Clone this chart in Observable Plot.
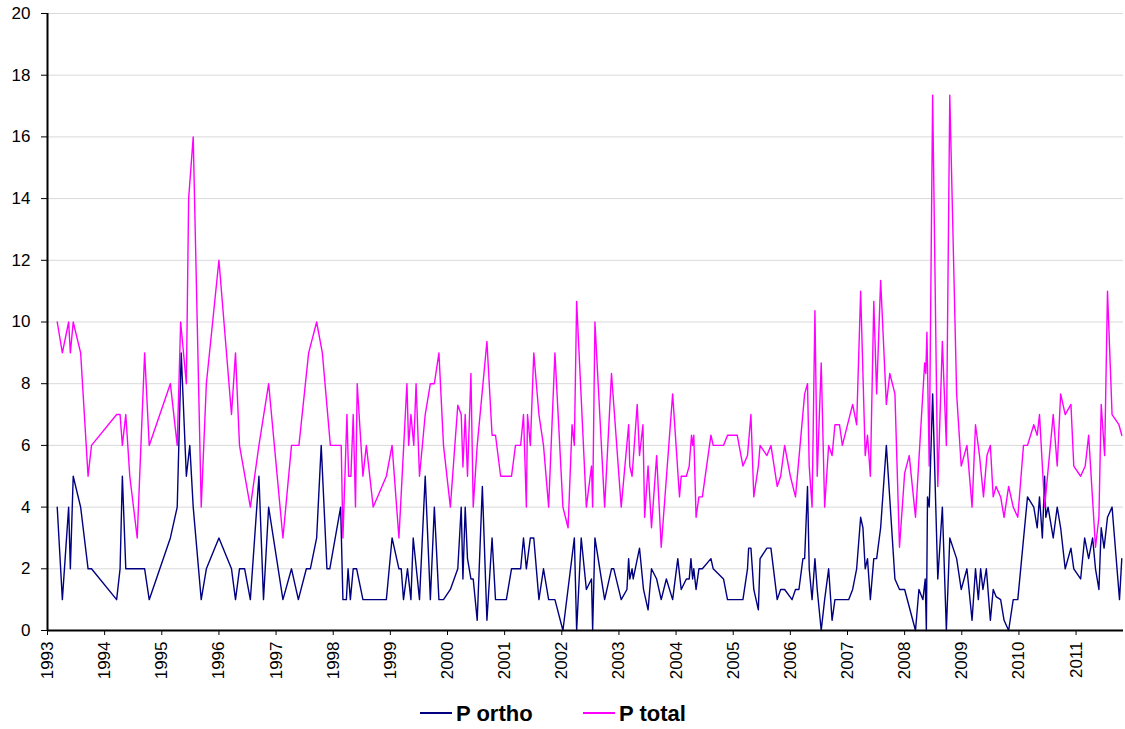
<!DOCTYPE html>
<html>
<head>
<meta charset="utf-8">
<script src="https://cdn.jsdelivr.net/npm/d3@7"></script>
<script src="https://cdn.jsdelivr.net/npm/@observablehq/plot@0.6"></script>
<style>
  body { margin: 0; background: #fff; font-family: "Liberation Sans", Arial, sans-serif; }
  #wrap { position: relative; width: 1125px; height: 729px; }
  #legend { position: absolute; left: 0; top: 700px; width: 1125px; height: 29px; }
  .sw { position: absolute; top: 12px; width: 32px; height: 2px; }
  .lab { position: absolute; top: 3px; font-weight: bold; font-size: 22px; line-height: 22px; color: #000; white-space: nowrap; }
</style>
</head>
<body>
<div id="wrap">
  <div id="chart"></div>
  <div id="legend"></div>
</div>
<script>
// Sampling dates (decimal years) and concentrations for orthophosphate
const orthoYears = [
  1993.17, 1993.26, 1993.37, 1993.40, 1993.45, 1993.58, 1993.71, 1993.77, 1994.21, 1994.27,
  1994.31, 1994.37, 1994.70, 1994.78, 1995.15, 1995.27, 1995.34, 1995.43, 1995.49, 1995.55,
  1995.69, 1995.78, 1996.00, 1996.22, 1996.29, 1996.36, 1996.45, 1996.55, 1996.70, 1996.78,
  1996.87, 1997.12, 1997.27, 1997.39, 1997.53, 1997.60, 1997.71, 1997.79, 1997.89, 1997.94,
  1998.13, 1998.17, 1998.23, 1998.26, 1998.30, 1998.35, 1998.41, 1998.52, 1998.93, 1999.03,
  1999.15, 1999.19, 1999.23, 1999.30, 1999.36, 1999.40, 1999.51, 1999.61, 1999.70, 1999.77,
  1999.85, 1999.93, 2000.05, 2000.18, 2000.24, 2000.27, 2000.31, 2000.35, 2000.41, 2000.45,
  2000.52, 2000.61, 2000.69, 2000.78, 2000.84, 2001.03, 2001.12, 2001.28, 2001.33, 2001.38,
  2001.45, 2001.51, 2001.60, 2001.68, 2001.77, 2001.88, 2002.02, 2002.22, 2002.26, 2002.34,
  2002.43, 2002.52, 2002.54, 2002.58, 2002.75, 2002.87, 2002.91, 2003.04, 2003.14, 2003.17,
  2003.19, 2003.23, 2003.25, 2003.36, 2003.43, 2003.51, 2003.57, 2003.66, 2003.74, 2003.83,
  2003.94, 2004.03, 2004.09, 2004.18, 2004.23, 2004.26, 2004.29, 2004.31, 2004.35, 2004.40,
  2004.46, 2004.61, 2004.65, 2004.83, 2004.90, 2005.17, 2005.25, 2005.27, 2005.31, 2005.36,
  2005.44, 2005.47, 2005.59, 2005.66, 2005.77, 2005.83, 2005.90, 2006.03, 2006.09, 2006.15,
  2006.22, 2006.25, 2006.30, 2006.33, 2006.38, 2006.43, 2006.47, 2006.54, 2006.60, 2006.67,
  2006.73, 2006.78, 2007.02, 2007.09, 2007.16, 2007.23, 2007.27, 2007.31, 2007.35, 2007.40,
  2007.46, 2007.51, 2007.58, 2007.68, 2007.83, 2007.91, 2008.00, 2008.19, 2008.25, 2008.32,
  2008.36, 2008.38, 2008.40, 2008.43, 2008.49, 2008.58, 2008.66, 2008.73, 2008.79, 2008.91,
  2008.99, 2009.09, 2009.18, 2009.24, 2009.29, 2009.33, 2009.37, 2009.43, 2009.50, 2009.55,
  2009.60, 2009.68, 2009.74, 2009.82, 2009.90, 2009.98, 2010.15, 2010.26, 2010.32, 2010.36,
  2010.41, 2010.45, 2010.47, 2010.51, 2010.60, 2010.67, 2010.73, 2010.81, 2010.91, 2010.96,
  2011.08, 2011.15, 2011.22, 2011.29, 2011.34, 2011.40, 2011.44, 2011.49, 2011.55, 2011.63,
  2011.76, 2011.80
];
const orthoValues = [
  4, 1, 4, 2, 5, 4, 2, 2, 1, 2,
  5, 2, 2, 1, 3, 4, 9, 5, 6, 4,
  1, 2, 3, 2, 1, 2, 2, 1, 5, 1,
  4, 1, 2, 1, 2, 2, 3, 6, 2, 2,
  4, 1, 1, 2, 1, 2, 2, 1, 1, 3,
  2, 2, 1, 2, 1, 3, 1, 5, 1, 4,
  1, 1, 1.33, 2, 4, 1.67, 4, 2.33, 1.67, 1.67,
  0.33, 4.67, 0.33, 3, 1, 1, 2, 2, 3, 2,
  3, 3, 1, 2, 1, 1, 0, 3, 0, 3,
  1.33, 1.67, 0, 3, 1, 2, 2, 1, 1.33, 2.33,
  1.67, 2, 1.67, 2.67, 1.33, 0.67, 2, 1.67, 1, 1.67,
  1, 2.33, 1.33, 1.67, 1.67, 2.33, 1.67, 2, 1.33, 2,
  2, 2.33, 2, 1.67, 1, 1, 2, 2.67, 2.67, 1.33,
  0.67, 2.33, 2.67, 2.67, 1, 1.33, 1.33, 1, 1.33, 1.33,
  2.33, 2.33, 4.67, 2, 1, 2.33, 1.33, 0, 1, 2,
  0.33, 1, 1, 1.33, 2, 3.67, 3.33, 2, 2.33, 1,
  2.33, 2.33, 3.33, 6, 1.67, 1.33, 1.33, 0, 1.33, 1,
  1.67, 0, 4.33, 4, 7.67, 1.67, 4, 0, 3, 2.33,
  1.33, 2, 0.33, 2, 1, 2, 1.33, 2, 0.33, 1.33,
  1.1, 1, 0.33, 0, 1, 1, 4.33, 4, 3.33, 4.33,
  3, 5, 3.67, 4, 3, 4, 3.33, 2, 2.67, 2,
  1.67, 3, 2.33, 3, 2, 1.33, 3.33, 2.67, 3.67, 4,
  1, 2.33
];

// Sampling dates (decimal years) and concentrations for total phosphorus
const totalYears = [
  1993.17, 1993.26, 1993.37, 1993.40, 1993.45, 1993.58, 1993.71, 1993.77, 1994.21, 1994.27,
  1994.31, 1994.37, 1994.44, 1994.57, 1994.70, 1994.78, 1995.15, 1995.27, 1995.33, 1995.43,
  1995.47, 1995.55, 1995.69, 1995.78, 1996.00, 1996.22, 1996.29, 1996.36, 1996.55, 1996.70,
  1996.87, 1997.12, 1997.27, 1997.40, 1997.57, 1997.71, 1997.81, 1997.95, 1998.14, 1998.17,
  1998.24, 1998.27, 1998.31, 1998.35, 1998.39, 1998.42, 1998.52, 1998.58, 1998.70, 1998.93,
  1999.03, 1999.15, 1999.29, 1999.32, 1999.36, 1999.41, 1999.45, 1999.51, 1999.61, 1999.70,
  1999.77, 1999.85, 1999.93, 2000.05, 2000.18, 2000.24, 2000.27, 2000.31, 2000.35, 2000.41,
  2000.45, 2000.52, 2000.69, 2000.78, 2000.84, 2000.93, 2001.12, 2001.19, 2001.28, 2001.33,
  2001.38, 2001.40, 2001.45, 2001.51, 2001.60, 2001.68, 2001.77, 2001.88, 2002.02, 2002.11,
  2002.18, 2002.22, 2002.26, 2002.43, 2002.52, 2002.54, 2002.58, 2002.75, 2002.87, 2003.04,
  2003.17, 2003.19, 2003.23, 2003.32, 2003.36, 2003.42, 2003.45, 2003.51, 2003.57, 2003.66,
  2003.74, 2003.94, 2004.06, 2004.09, 2004.18, 2004.23, 2004.27, 2004.29, 2004.31, 2004.35,
  2004.40, 2004.46, 2004.61, 2004.65, 2004.83, 2004.90, 2005.07, 2005.17, 2005.25, 2005.31,
  2005.36, 2005.44, 2005.47, 2005.59, 2005.66, 2005.77, 2005.83, 2005.90, 2006.00, 2006.09,
  2006.25, 2006.30, 2006.33, 2006.38, 2006.43, 2006.47, 2006.54, 2006.60, 2006.67, 2006.73,
  2006.78, 2006.86, 2006.91, 2007.09, 2007.16, 2007.23, 2007.31, 2007.35, 2007.40, 2007.46,
  2007.51, 2007.58, 2007.68, 2007.74, 2007.83, 2007.91, 2008.00, 2008.08, 2008.19, 2008.35,
  2008.37, 2008.39, 2008.43, 2008.49, 2008.58, 2008.66, 2008.73, 2008.79, 2008.91, 2008.99,
  2009.09, 2009.18, 2009.24, 2009.31, 2009.38, 2009.44, 2009.50, 2009.55, 2009.60, 2009.68,
  2009.74, 2009.82, 2009.90, 2009.98, 2010.08, 2010.15, 2010.26, 2010.32, 2010.36, 2010.45,
  2010.60, 2010.67, 2010.73, 2010.81, 2010.91, 2010.96, 2011.08, 2011.16, 2011.22, 2011.34,
  2011.40, 2011.44, 2011.50, 2011.55, 2011.63, 2011.75, 2011.80
];
const totalValues = [
  10, 9, 10, 9, 10, 9, 5, 6, 7, 7,
  6, 7, 5, 3, 9, 6, 8, 6, 10, 8,
  14, 16, 4, 8, 12, 7, 9, 6, 4, 6,
  8, 3, 6, 6, 9, 10, 9, 6, 6, 3,
  7, 5, 5, 7, 4, 8, 5, 6, 4, 5,
  6, 3, 8, 6, 7, 6, 8, 5, 7, 8,
  8, 9, 6, 4, 7.3, 7, 5.3, 7, 5, 8.33,
  4, 6, 9.37, 6.33, 6.33, 5, 5, 6, 6, 7,
  4, 7, 6, 9, 7, 6, 4, 9, 4, 3.33,
  6.67, 6, 10.67, 4, 5.33, 4, 10, 4, 8.33, 4,
  6.67, 5.33, 5, 7.33, 5.67, 6.67, 3.67, 5.33, 3.33, 5.67,
  2.7, 7.67, 4.33, 5, 5, 5.33, 6.33, 6, 6.33, 3.67,
  4.33, 4.33, 6.33, 6, 6, 6.33, 6.33, 5.33, 5.67, 7,
  4.33, 5.33, 6, 5.67, 6, 4.67, 5, 6, 5, 4.33,
  7.67, 8, 5.33, 4, 10.37, 5, 8.67, 4, 6, 5.67,
  6.67, 6.67, 6, 7.33, 6.67, 11, 5.67, 6.33, 5, 10.67,
  7.67, 11.35, 7.33, 8.33, 7.67, 2.7, 5.1, 5.67, 3.67, 8.67,
  8.33, 9.67, 5.33, 17.35, 4.67, 9.37, 6, 17.35, 7.67, 5.33,
  6, 4, 6.67, 5.67, 4.33, 5.67, 6, 4.33, 4.67, 4.33,
  3.67, 4.67, 4, 3.67, 6, 6, 6.67, 6.33, 7, 4,
  7, 5.33, 7.67, 7, 7.33, 5.33, 5, 5.33, 6.33, 2.7,
  3.67, 7.33, 5.67, 11, 7, 6.67, 6.33
];

const seriesNames = ["P ortho", "P total"];
const seriesColors = ["#000080", "#ff00ff"];
const yearTicks = d3.range(1993, 2012);
const valueTicks = d3.range(0, 21, 2);

const orthoData = orthoYears.map((year, i) => ({year, value: orthoValues[i]}));
const totalData = totalYears.map((year, i) => ({year, value: totalValues[i]}));

const chart = Plot.plot({
  width: 1125,
  height: 690,
  marginTop: 13,
  marginBottom: 60,
  marginLeft: 47,
  marginRight: 2,
  style: {fontFamily: "'Liberation Sans', Arial, sans-serif", background: "#fff", color: "#000"},
  x: {type: "linear", domain: [1993, 2011.83]},
  y: {domain: [0, 20]},
  marks: [
    Plot.gridY(valueTicks, {stroke: "#d9d9d9", strokeOpacity: 1, strokeWidth: 1}),
    Plot.axisY(valueTicks, {tickSize: 6, tickPadding: 11, fontSize: 17, label: null, tickFormat: d => String(d)}),
    Plot.axisX(yearTicks, {tickSize: 5, tickPadding: 6, fontSize: 17, tickRotate: -90, label: null, tickFormat: d => String(d)}),
    Plot.line(orthoData, {x: "year", y: "value", stroke: seriesColors[0], strokeWidth: 1.4}),
    Plot.line(totalData, {x: "year", y: "value", stroke: seriesColors[1], strokeWidth: 1.4}),
    Plot.ruleX([1993], {stroke: "#000", strokeWidth: 2}),
    Plot.ruleY([0], {stroke: "#000", strokeWidth: 2})
  ]
});
document.getElementById("chart").appendChild(chart);

// Legend below the plot
const legend = document.getElementById("legend");
const legendLeft = [420, 583];
seriesNames.forEach((name, i) => {
  const sw = document.createElement("div");
  sw.className = "sw";
  sw.style.left = legendLeft[i] + "px";
  sw.style.background = seriesColors[i];
  legend.appendChild(sw);
  const lab = document.createElement("div");
  lab.className = "lab";
  lab.style.left = (legendLeft[i] + 36) + "px";
  lab.textContent = name;
  legend.appendChild(lab);
});
</script>
</body>
</html>
